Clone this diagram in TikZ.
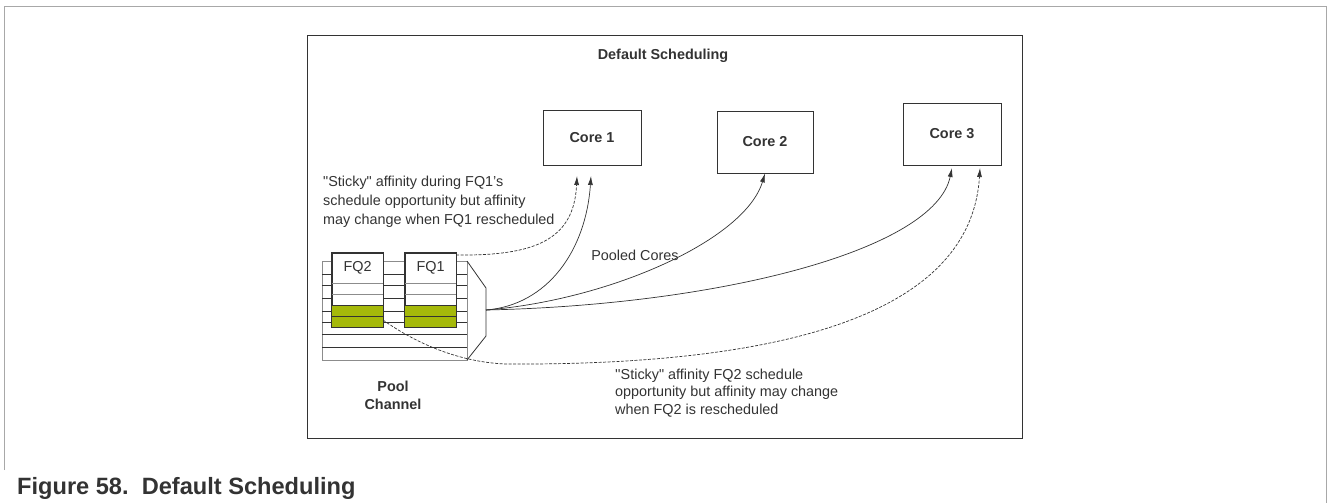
\documentclass[tikz,border=0pt]{standalone}
\usepackage{fontspec}
\setmainfont{Liberation Sans}
\usetikzlibrary{arrows.meta,positioning,calc}
\definecolor{inkgray}{HTML}{333333}
\definecolor{framegray}{HTML}{A8A8A8}
\definecolor{rowgray}{HTML}{8C8C8C}
\definecolor{queuegreen}{RGB}{165,185,10}

\begin{document}
\begin{tikzpicture}[x=1pt,y=-1pt,font=\fontsize{14.4}{18}\selectfont,>={Latex[length=9pt,width=5pt]},
 corebox/.style={draw=inkgray,line width=0.8pt,inner sep=0pt,text=inkgray,font=\fontsize{14.4}{18}\selectfont\bfseries},
 fqbox/.style={draw=inkgray,fill=white,line width=0.8pt,minimum width=51pt,minimum height=74pt,inner sep=0pt},
 note/.style={text=inkgray,align=left,inner sep=0pt},
 link/.style={draw=inkgray,line width=0.7pt,->},
 sticky/.style={link,dash pattern=on 3pt off 1.5pt}]
 \useasboundingbox (0,0) rectangle (1328,503);
 % page frame, open at the bottom
 \draw[framegray,line width=1pt] (4,470)--(4,7)--(1326,7)--(1326,503);
 \draw[inkgray,line width=0.9pt] (307,35) rectangle (1022,438);
 \node[text=inkgray,font=\fontsize{14.4}{18}\selectfont\bfseries] (title) at (663,56) {Default Scheduling};

 % cores
 \node[corebox,minimum width=98pt,minimum height=55pt] (core1) at (592,137.5) {Core 1};
 \node[corebox,minimum width=96pt,minimum height=62pt] (core2) at (765,142) {Core 2};
 \node[corebox,minimum width=98pt,minimum height=62pt] (core3) at (952,134) {Core 3};

 % pool channel
 \draw[rowgray,line width=0.8pt] (322,261) rectangle (467,360);
 \foreach \y in {274,285,298,311,322,334,347}
  \draw[inkgray,line width=0.7pt] (322,\y)--(467,\y);
 \foreach \name/\x in {fq2/357.5,fq1/430.5} {
  \node[fqbox] (\name) at (\x,290) {};
  \fill[queuegreen] (\x-25.5,305) rectangle (\x+25.5,327);
  \draw[rowgray,line width=0.8pt] (\x-25.5,283)--(\x+25.5,283) (\x-25.5,294)--(\x+25.5,294);
  \draw[inkgray,line width=0.8pt] (\x-25.5,305)--(\x+25.5,305) (\x-25.5,316)--(\x+25.5,316);
  \draw[inkgray,line width=0.8pt] (\name.north west) rectangle (\name.south east);
 }
 \node[text=inkgray] at (357.5,268) {FQ2};
 \node[text=inkgray] at (430.5,268) {FQ1};
 \draw[inkgray,line width=0.8pt] (467,261)--(486,288)--(486,336)--(467,360);
 \node[note,align=center,font=\fontsize{14.4}{18}\selectfont\bfseries] (poolname) at (393,395) {Pool\\Channel};

 \coordinate (hub) at (486,310);
 \coordinate (c1a) at (577,176);
 \coordinate (c1b) at (591,176);
 \coordinate (c3a) at (952,168);
 \coordinate (c3b) at (980,168);
 \coordinate (fq1out) at (456,255);
 \coordinate (fq2out) at (383,320);
 \coordinate (dip) at (505,364);

 % pooled links
 \draw[link] (hub) .. controls (548,305) and (586,250) .. (c1b);
 \draw[link] (hub) .. controls (610,300) and (745,240) .. (core2.south);
 \draw[link] (hub) .. controls (720,305) and (935,250) .. (c3a);
 \node[text=inkgray] (pooled) at (635,255) {Pooled Cores};

 % sticky affinity
 \draw[sticky] (fq1out) .. controls (535,256) and (574,240) .. (c1a);
 \draw[sticky] (fq2out) .. controls (420,346) and (462,362) .. (dip)
  .. controls (820,366) and (972,300) .. (c3b);
 \node[note,anchor=west,font=\fontsize{14.4}{19}\selectfont] (fq1note) at (323,202)
  {\textquotedbl Sticky\textquotedbl{} affinity during FQ1's\\schedule opportunity but affinity\\may change when FQ1 rescheduled};
 \node[note,anchor=west,font=\fontsize{14.4}{17.5}\selectfont] (fq2note) at (615,393)
  {\textquotesingle\textquotesingle Sticky\textquotedbl{} affinity FQ2 schedule\\opportunity but affinity may change\\when FQ2 is rescheduled};

 \node[anchor=base west,inner sep=0pt,text=inkgray,font=\fontsize{23.6}{27}\selectfont\bfseries] (caption) at (17,494)
  {Figure 58.\ \ Default Scheduling};
\end{tikzpicture}
\end{document}
